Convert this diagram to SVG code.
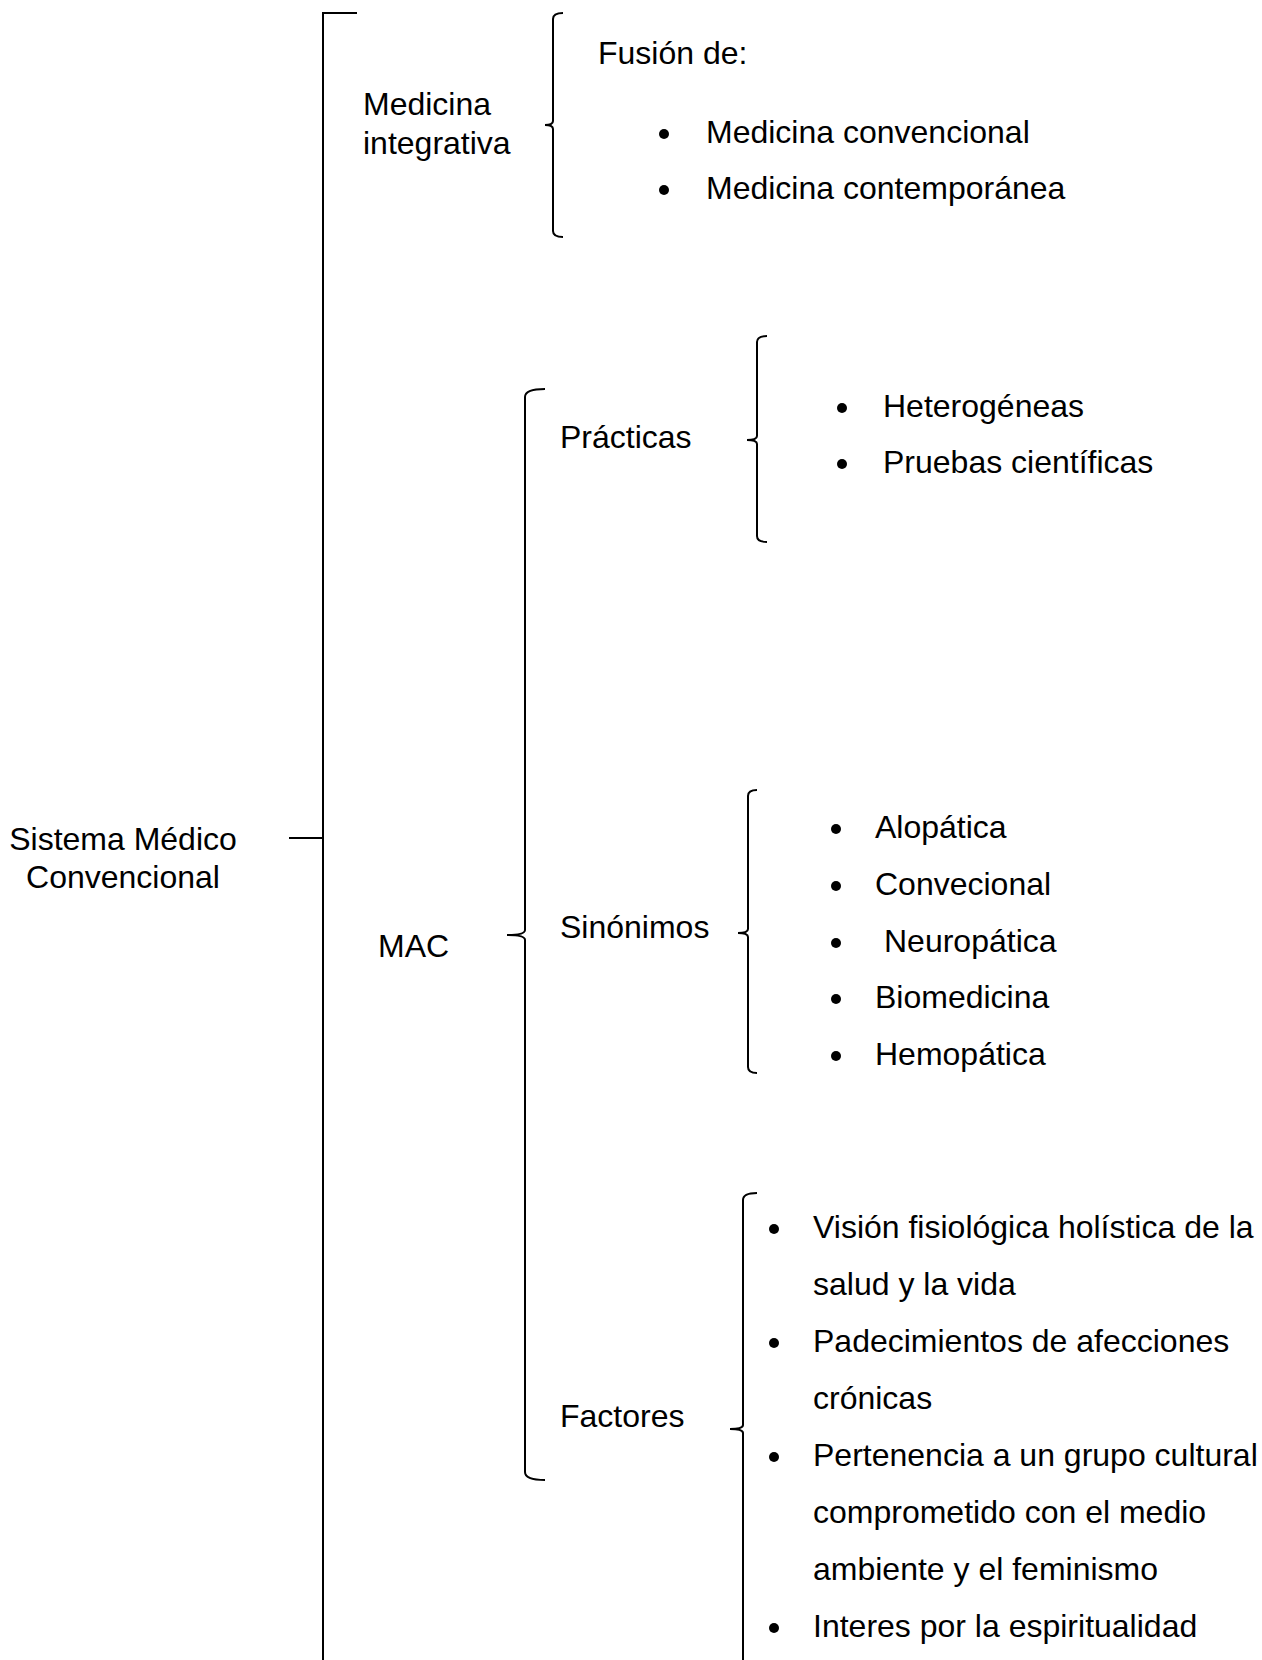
<svg xmlns="http://www.w3.org/2000/svg" width="1262" height="1660" viewBox="0 0 1262 1660">
<style>
text{font-family:"Liberation Sans",Arial,sans-serif;font-size:32px;fill:#000}
.ln{fill:none;stroke:#000;stroke-width:2;stroke-linecap:butt;stroke-linejoin:miter}
.b{fill:#000}
</style>
<rect width="1262" height="1660" fill="#fff"/>
<g id="connectors">
<path class="ln" d="M357,13 L323,13 L323,1660"/>
<path class="ln" d="M289,838 L323,838"/>
<path class="ln" d="M563,13 Q553,13 553,19 L553,121 Q553,125 545,125 Q553,125 553,129 L553,231 Q553,237 563,237"/>
<path class="ln" d="M545,389 Q525,389 525,397 L525,930 Q525,935 507,935 Q525,935 525,940 L525,1472 Q525,1480 545,1480"/>
<path class="ln" d="M767,336 Q757,336 757,342 L757,436 Q757,440 747,440 Q757,440 757,444 L757,536 Q757,542 767,542"/>
<path class="ln" d="M757,790 Q748,790 748,796 L748,929 Q748,933 738,933 Q748,933 748,937 L748,1067 Q748,1073 757,1073"/>
<path class="ln" d="M757,1193 Q743,1193 743,1200 L743,1425 Q743,1429 730,1429 Q743,1429 743,1433 L743,1660"/>
</g>
<g id="n-sistema">
<text x="123" y="850" text-anchor="middle">Sistema Médico</text>
<text x="123" y="888" text-anchor="middle">Convencional</text>
</g>
<g id="n-medicina-integrativa">
<text x="363" y="115">Medicina</text>
<text x="363" y="154">integrativa</text>
</g>
<g id="n-fusion">
<text x="598" y="64">Fusión de:</text>
<circle class="b" cx="664" cy="134" r="5"/>
<text x="706" y="143">Medicina convencional</text>
<circle class="b" cx="664" cy="190" r="5"/>
<text x="706" y="199">Medicina contemporánea</text>
</g>
<g id="n-mac">
<text x="378" y="957">MAC</text>
</g>
<g id="n-practicas">
<text x="560" y="448">Prácticas</text>
</g>
<g id="n-practicas-list">
<circle class="b" cx="842" cy="408" r="5"/>
<text x="883" y="417">Heterogéneas</text>
<circle class="b" cx="842" cy="464" r="5"/>
<text x="883" y="473">Pruebas científicas</text>
</g>
<g id="n-sinonimos">
<text x="560" y="938">Sinónimos</text>
</g>
<g id="n-sinonimos-list">
<circle class="b" cx="836" cy="829" r="5"/>
<text x="875" y="838">Alopática</text>
<circle class="b" cx="836" cy="886" r="5"/>
<text x="875" y="895">Convecional</text>
<circle class="b" cx="836" cy="943" r="5"/>
<text x="884" y="952">Neuropática</text>
<circle class="b" cx="836" cy="999" r="5"/>
<text x="875" y="1008">Biomedicina</text>
<circle class="b" cx="836" cy="1056" r="5"/>
<text x="875" y="1065">Hemopática</text>
</g>
<g id="n-factores">
<text x="560" y="1427">Factores</text>
</g>
<g id="n-factores-list">
<circle class="b" cx="774" cy="1229" r="5"/>
<text x="813" y="1238">Visión fisiológica holística de la</text>
<text x="813" y="1295">salud y la vida</text>
<circle class="b" cx="774" cy="1343" r="5"/>
<text x="813" y="1352">Padecimientos de afecciones</text>
<text x="813" y="1409">crónicas</text>
<circle class="b" cx="774" cy="1457" r="5"/>
<text x="813" y="1466">Pertenencia a un grupo cultural</text>
<text x="813" y="1523">comprometido con el medio</text>
<text x="813" y="1580">ambiente y el feminismo</text>
<circle class="b" cx="774" cy="1628" r="5"/>
<text x="813" y="1637">Interes por la espiritualidad</text>
</g>
</svg>
